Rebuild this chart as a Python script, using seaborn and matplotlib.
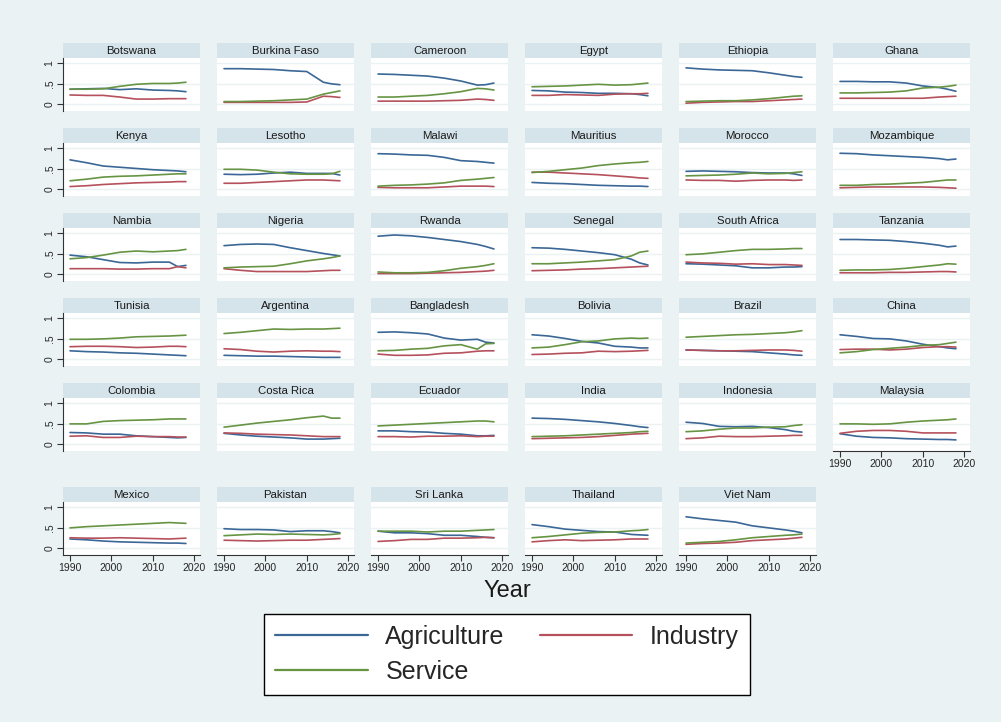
import matplotlib
matplotlib.use("Agg")
import matplotlib.pyplot as plt
from matplotlib.lines import Line2D
import seaborn as sns
import pandas as pd

# ---------------- data ----------------
YEARS = [1990, 1994, 1998, 2002, 2006, 2010, 2014, 2016, 2018]

COUNTRIES = ["Botswana", "Burkina Faso", "Cameroon", "Egypt", "Ethiopia", "Ghana",
             "Kenya", "Lesotho", "Malawi", "Mauritius", "Morocco", "Mozambique",
             "Nambia", "Nigeria", "Rwanda", "Senegal", "South Africa", "Tanzania",
             "Tunisia", "Argentina", "Bangladesh", "Bolivia", "Brazil", "China",
             "Colombia", "Costa Rica", "Ecuador", "India", "Indonesia", "Malaysia",
             "Mexico", "Pakistan", "Sri Lanka", "Thailand", "Viet Nam"]

SECTORS = ["Agriculture", "Industry", "Service"]

AGRICULTURE = {
    "Botswana":     [0.37, 0.38, 0.39, 0.36, 0.38, 0.35, 0.34, 0.33, 0.31],
    "Burkina Faso": [0.87, 0.87, 0.86, 0.85, 0.82, 0.80, 0.54, 0.50, 0.48],
    "Cameroon":     [0.74, 0.73, 0.71, 0.69, 0.64, 0.57, 0.47, 0.48, 0.52],
    "Egypt":        [0.34, 0.33, 0.30, 0.29, 0.27, 0.27, 0.26, 0.24, 0.21],
    "Ethiopia":     [0.89, 0.86, 0.84, 0.83, 0.82, 0.77, 0.71, 0.68, 0.66],
    "Ghana":        [0.56, 0.56, 0.55, 0.55, 0.52, 0.45, 0.41, 0.37, 0.32],
    "Kenya":        [0.72, 0.65, 0.57, 0.54, 0.51, 0.48, 0.46, 0.45, 0.43],
    "Lesotho":      [0.37, 0.36, 0.37, 0.40, 0.42, 0.39, 0.39, 0.39, 0.35],
    "Malawi":       [0.87, 0.86, 0.84, 0.83, 0.78, 0.70, 0.68, 0.66, 0.64],
    "Mauritius":    [0.17, 0.15, 0.14, 0.12, 0.10, 0.09, 0.08, 0.08, 0.07],
    "Morocco":      [0.44, 0.45, 0.44, 0.43, 0.41, 0.40, 0.40, 0.38, 0.34],
    "Mozambique":   [0.88, 0.87, 0.84, 0.82, 0.80, 0.78, 0.75, 0.72, 0.74],
    "Nambia":       [0.47, 0.43, 0.36, 0.29, 0.28, 0.30, 0.30, 0.19, 0.22],
    "Nigeria":      [0.70, 0.73, 0.74, 0.73, 0.65, 0.58, 0.51, 0.48, 0.45],
    "Rwanda":       [0.93, 0.96, 0.94, 0.90, 0.85, 0.80, 0.73, 0.68, 0.62],
    "Senegal":      [0.65, 0.64, 0.61, 0.57, 0.53, 0.48, 0.37, 0.28, 0.23],
    "South Africa": [0.26, 0.25, 0.23, 0.21, 0.16, 0.16, 0.18, 0.18, 0.19],
    "Tanzania":     [0.85, 0.85, 0.84, 0.83, 0.80, 0.76, 0.71, 0.67, 0.69],
    "Tunisia":      [0.21, 0.19, 0.18, 0.16, 0.15, 0.13, 0.11, 0.10, 0.09],
    "Argentina":    [0.10, 0.09, 0.08, 0.08, 0.07, 0.06, 0.05, 0.05, 0.05],
    "Bangladesh":   [0.66, 0.67, 0.65, 0.62, 0.52, 0.47, 0.49, 0.42, 0.40],
    "Bolivia":      [0.60, 0.57, 0.51, 0.44, 0.40, 0.32, 0.30, 0.28, 0.28],
    "Brazil":       [0.23, 0.22, 0.21, 0.20, 0.19, 0.16, 0.13, 0.11, 0.10],
    "China":        [0.60, 0.56, 0.51, 0.50, 0.45, 0.37, 0.31, 0.28, 0.26],
    "Colombia":     [0.29, 0.28, 0.25, 0.25, 0.21, 0.19, 0.17, 0.16, 0.17],
    "Costa Rica":   [0.27, 0.23, 0.20, 0.18, 0.16, 0.13, 0.13, 0.14, 0.15],
    "Ecuador":      [0.33, 0.33, 0.31, 0.30, 0.27, 0.25, 0.21, 0.21, 0.22],
    "India":        [0.64, 0.63, 0.61, 0.58, 0.55, 0.51, 0.46, 0.43, 0.41],
    "Indonesia":    [0.54, 0.51, 0.44, 0.43, 0.44, 0.41, 0.36, 0.32, 0.30],
    "Malaysia":     [0.26, 0.20, 0.17, 0.16, 0.14, 0.13, 0.12, 0.12, 0.11],
    "Mexico":       [0.23, 0.21, 0.18, 0.16, 0.15, 0.14, 0.13, 0.13, 0.12],
    "Pakistan":     [0.48, 0.46, 0.46, 0.45, 0.41, 0.43, 0.43, 0.41, 0.38],
    "Sri Lanka":    [0.42, 0.38, 0.38, 0.36, 0.32, 0.32, 0.29, 0.27, 0.26],
    "Thailand":     [0.58, 0.53, 0.47, 0.44, 0.41, 0.40, 0.34, 0.33, 0.32],
    "Viet Nam":     [0.77, 0.72, 0.68, 0.64, 0.55, 0.50, 0.45, 0.42, 0.38],
}

INDUSTRY = {
    "Botswana":     [0.23, 0.22, 0.22, 0.18, 0.13, 0.13, 0.14, 0.14, 0.14],
    "Burkina Faso": [0.05, 0.05, 0.05, 0.05, 0.05, 0.06, 0.20, 0.19, 0.17],
    "Cameroon":     [0.08, 0.08, 0.08, 0.08, 0.09, 0.10, 0.13, 0.12, 0.10],
    "Egypt":        [0.22, 0.22, 0.24, 0.23, 0.22, 0.25, 0.26, 0.26, 0.27],
    "Ethiopia":     [0.03, 0.05, 0.06, 0.07, 0.07, 0.09, 0.11, 0.12, 0.13],
    "Ghana":        [0.15, 0.15, 0.15, 0.15, 0.15, 0.15, 0.18, 0.19, 0.20],
    "Kenya":        [0.07, 0.09, 0.12, 0.14, 0.16, 0.17, 0.18, 0.19, 0.19],
    "Lesotho":      [0.15, 0.15, 0.17, 0.19, 0.21, 0.23, 0.23, 0.22, 0.21],
    "Malawi":       [0.05, 0.04, 0.04, 0.04, 0.06, 0.08, 0.08, 0.08, 0.07],
    "Mauritius":    [0.42, 0.42, 0.40, 0.38, 0.36, 0.33, 0.30, 0.28, 0.27],
    "Morocco":      [0.23, 0.22, 0.22, 0.20, 0.22, 0.23, 0.23, 0.22, 0.23],
    "Mozambique":   [0.04, 0.05, 0.06, 0.06, 0.06, 0.06, 0.05, 0.04, 0.03],
    "Nambia":       [0.14, 0.14, 0.14, 0.13, 0.13, 0.14, 0.14, 0.19, 0.16],
    "Nigeria":      [0.14, 0.10, 0.07, 0.07, 0.07, 0.07, 0.09, 0.10, 0.10],
    "Rwanda":       [0.02, 0.02, 0.02, 0.03, 0.04, 0.05, 0.07, 0.08, 0.10],
    "Senegal":      [0.09, 0.10, 0.11, 0.13, 0.14, 0.16, 0.18, 0.19, 0.20],
    "South Africa": [0.30, 0.28, 0.27, 0.25, 0.26, 0.24, 0.24, 0.23, 0.22],
    "Tanzania":     [0.04, 0.04, 0.04, 0.05, 0.05, 0.06, 0.07, 0.07, 0.06],
    "Tunisia":      [0.31, 0.32, 0.32, 0.31, 0.29, 0.30, 0.32, 0.32, 0.31],
    "Argentina":    [0.26, 0.24, 0.20, 0.18, 0.20, 0.21, 0.20, 0.20, 0.19],
    "Bangladesh":   [0.13, 0.10, 0.10, 0.11, 0.15, 0.16, 0.20, 0.21, 0.21],
    "Bolivia":      [0.12, 0.13, 0.15, 0.16, 0.20, 0.19, 0.20, 0.21, 0.22],
    "Brazil":       [0.23, 0.22, 0.21, 0.21, 0.22, 0.23, 0.23, 0.22, 0.20],
    "China":        [0.24, 0.25, 0.25, 0.23, 0.25, 0.29, 0.31, 0.31, 0.30],
    "Colombia":     [0.20, 0.21, 0.17, 0.17, 0.20, 0.19, 0.19, 0.18, 0.18],
    "Costa Rica":   [0.28, 0.27, 0.25, 0.24, 0.23, 0.21, 0.19, 0.19, 0.19],
    "Ecuador":      [0.19, 0.19, 0.18, 0.20, 0.20, 0.21, 0.19, 0.20, 0.20],
    "India":        [0.14, 0.15, 0.16, 0.17, 0.19, 0.22, 0.25, 0.26, 0.27],
    "Indonesia":    [0.14, 0.16, 0.20, 0.19, 0.19, 0.20, 0.21, 0.22, 0.22],
    "Malaysia":     [0.27, 0.32, 0.34, 0.34, 0.32, 0.28, 0.28, 0.28, 0.28],
    "Mexico":       [0.26, 0.25, 0.25, 0.26, 0.25, 0.24, 0.23, 0.24, 0.25],
    "Pakistan":     [0.20, 0.19, 0.18, 0.19, 0.20, 0.20, 0.22, 0.23, 0.24],
    "Sri Lanka":    [0.17, 0.19, 0.22, 0.22, 0.25, 0.25, 0.26, 0.27, 0.26],
    "Thailand":     [0.16, 0.19, 0.21, 0.19, 0.20, 0.21, 0.23, 0.23, 0.23],
    "Viet Nam":     [0.10, 0.12, 0.13, 0.15, 0.19, 0.21, 0.23, 0.25, 0.27],
}

SERVICE = {
    "Botswana":     [0.37, 0.37, 0.38, 0.44, 0.49, 0.51, 0.51, 0.52, 0.54],
    "Burkina Faso": [0.07, 0.07, 0.08, 0.09, 0.11, 0.13, 0.25, 0.29, 0.33],
    "Cameroon":     [0.18, 0.18, 0.20, 0.22, 0.26, 0.31, 0.39, 0.38, 0.35],
    "Egypt":        [0.43, 0.44, 0.45, 0.47, 0.49, 0.47, 0.48, 0.50, 0.52],
    "Ethiopia":     [0.07, 0.08, 0.09, 0.09, 0.11, 0.14, 0.18, 0.20, 0.21],
    "Ghana":        [0.28, 0.28, 0.29, 0.30, 0.33, 0.40, 0.42, 0.44, 0.47],
    "Kenya":        [0.21, 0.25, 0.30, 0.32, 0.33, 0.35, 0.37, 0.38, 0.38],
    "Lesotho":      [0.49, 0.49, 0.47, 0.42, 0.38, 0.37, 0.37, 0.38, 0.44],
    "Malawi":       [0.08, 0.10, 0.11, 0.13, 0.16, 0.22, 0.25, 0.27, 0.29],
    "Mauritius":    [0.41, 0.44, 0.48, 0.52, 0.58, 0.62, 0.65, 0.66, 0.68],
    "Morocco":      [0.33, 0.34, 0.35, 0.37, 0.40, 0.38, 0.39, 0.41, 0.43],
    "Mozambique":   [0.10, 0.10, 0.12, 0.13, 0.15, 0.17, 0.21, 0.23, 0.23],
    "Nambia":       [0.38, 0.41, 0.47, 0.54, 0.57, 0.55, 0.57, 0.58, 0.61],
    "Nigeria":      [0.16, 0.18, 0.19, 0.20, 0.26, 0.33, 0.38, 0.41, 0.45],
    "Rwanda":       [0.06, 0.04, 0.04, 0.05, 0.09, 0.15, 0.19, 0.22, 0.26],
    "Senegal":      [0.26, 0.26, 0.28, 0.30, 0.33, 0.36, 0.45, 0.54, 0.57],
    "South Africa": [0.48, 0.50, 0.54, 0.58, 0.61, 0.61, 0.62, 0.63, 0.63],
    "Tanzania":     [0.10, 0.11, 0.11, 0.12, 0.15, 0.19, 0.23, 0.26, 0.25],
    "Tunisia":      [0.49, 0.49, 0.50, 0.52, 0.55, 0.56, 0.57, 0.58, 0.59],
    "Argentina":    [0.63, 0.66, 0.70, 0.74, 0.73, 0.74, 0.74, 0.75, 0.76],
    "Bangladesh":   [0.21, 0.22, 0.25, 0.27, 0.33, 0.36, 0.25, 0.38, 0.39],
    "Bolivia":      [0.28, 0.30, 0.36, 0.43, 0.45, 0.50, 0.52, 0.51, 0.52],
    "Brazil":       [0.54, 0.56, 0.58, 0.60, 0.61, 0.63, 0.65, 0.67, 0.70],
    "China":        [0.16, 0.19, 0.24, 0.27, 0.30, 0.34, 0.36, 0.39, 0.42],
    "Colombia":     [0.50, 0.50, 0.56, 0.58, 0.59, 0.60, 0.62, 0.62, 0.62],
    "Costa Rica":   [0.42, 0.47, 0.52, 0.56, 0.60, 0.65, 0.69, 0.64, 0.64],
    "Ecuador":      [0.45, 0.47, 0.49, 0.51, 0.53, 0.55, 0.57, 0.57, 0.55],
    "India":        [0.19, 0.20, 0.21, 0.23, 0.25, 0.27, 0.29, 0.31, 0.32],
    "Indonesia":    [0.31, 0.33, 0.37, 0.40, 0.40, 0.42, 0.43, 0.46, 0.48],
    "Malaysia":     [0.50, 0.50, 0.49, 0.50, 0.54, 0.57, 0.59, 0.60, 0.62],
    "Mexico":       [0.50, 0.53, 0.55, 0.57, 0.59, 0.61, 0.63, 0.62, 0.61],
    "Pakistan":     [0.31, 0.33, 0.35, 0.34, 0.35, 0.34, 0.33, 0.34, 0.36],
    "Sri Lanka":    [0.42, 0.42, 0.42, 0.40, 0.42, 0.42, 0.44, 0.45, 0.46],
    "Thailand":     [0.26, 0.29, 0.33, 0.37, 0.39, 0.40, 0.43, 0.44, 0.46],
    "Viet Nam":     [0.13, 0.15, 0.17, 0.21, 0.26, 0.29, 0.32, 0.33, 0.35],
}

X_TICKS = [1990, 2000, 2010, 2020]
Y_TICKS = [0, 0.5, 1]
Y_TICK_LABELS = ["0", ".5", "1"]

# ---------------- styling ----------------
BG = "#EAF2F3"
STRIP = "#D5E3EA"
COLORS = {"Agriculture": "#3b6796", "Industry": "#b5515c", "Service": "#679443"}

sns.set_theme(style="white")
plt.rcParams["font.family"] = ["Liberation Sans", "DejaVu Sans"]

rows = []
for sector, table in zip(SECTORS, [AGRICULTURE, INDUSTRY, SERVICE]):
    for c in COUNTRIES:
        for y, v in zip(YEARS, table[c]):
            rows.append({"country": c, "sector": sector, "year": y, "share": v})
df = pd.DataFrame(rows)

W, H = 1001, 722
fig = plt.figure(figsize=(W / 100, H / 100), dpi=100, facecolor=BG)

COL_LEFT = 63
COL_PITCH = 154
PANEL_W = 137
STRIP_H = 15
PLOT_H = 53
ROW_TOPS = [43, 128, 213, 298, 383, 487]
NCOL = 6
n = len(COUNTRIES)

for i, c in enumerate(COUNTRIES):
    r, k = divmod(i, NCOL)
    left = COL_LEFT + COL_PITCH * k
    top = ROW_TOPS[r]
    # strip
    sax = fig.add_axes([left / W, 1 - (top + STRIP_H) / H, PANEL_W / W, STRIP_H / H])
    sax.set_facecolor(STRIP)
    sax.set_xticks([]); sax.set_yticks([])
    for s in sax.spines.values():
        s.set_visible(False)
    sax.text(0.5, 0.45, c, ha="center", va="center", fontsize=8.2,
             color="#1a1a1a", transform=sax.transAxes)
    # plot
    ax = fig.add_axes([left / W, 1 - (top + STRIP_H + PLOT_H) / H, PANEL_W / W, PLOT_H / H])
    ax.set_facecolor("white")
    for yv in Y_TICKS:
        ax.axhline(yv, color=BG, lw=1.0, zorder=0)
    sub = df[df.country == c]
    sns.lineplot(data=sub, x="year", y="share", hue="sector", palette=COLORS,
                 hue_order=SECTORS, ax=ax, legend=False, lw=1.2)
    ax.set_xlim(1988.3, 2021.4)
    ax.set_ylim(-0.16, 1.13)
    ax.set_xlabel(""); ax.set_ylabel("")
    for s in ["top", "right"]:
        ax.spines[s].set_visible(False)
    is_bottom = (i + NCOL >= n)
    if k == 0:
        ax.spines["left"].set_visible(True)
        ax.spines["left"].set_color("#333333")
        ax.spines["left"].set_linewidth(0.8)
        ax.set_yticks(Y_TICKS)
        ax.set_yticklabels(Y_TICK_LABELS, rotation=90, va="center", fontsize=7.5)
        ax.tick_params(axis="y", length=4, width=0.8, color="#333333", pad=2, left=True)
    else:
        ax.spines["left"].set_visible(False)
        ax.set_yticks([])
    if is_bottom:
        ax.spines["bottom"].set_visible(True)
        ax.spines["bottom"].set_color("#333333")
        ax.spines["bottom"].set_linewidth(0.8)
        ax.set_xticks(X_TICKS)
        ax.set_xticklabels([str(t) for t in X_TICKS], fontsize=7.5)
        ax.tick_params(axis="x", length=4, width=0.8, color="#333333", pad=2, bottom=True)
    else:
        ax.spines["bottom"].set_visible(False)
        ax.set_xticks([])

fig.text(507 / W, 1 - 591 / H, "Year", ha="center", va="center", fontsize=17, color="#1a1a1a")

handles = [Line2D([], [], color=COLORS[s], lw=1.6) for s in ["Agriculture", "Service", "Industry"]]
labels = ["Agriculture", "Service", "Industry"]
leg = fig.legend(handles, labels, ncol=2, loc="center",
                 bbox_to_anchor=(507 / W, 1 - 654.5 / H), fontsize=18,
                 frameon=True, fancybox=False, edgecolor="black", framealpha=1,
                 handlelength=3.7, handletextpad=0.7, columnspacing=1.4,
                 labelspacing=0.45, borderpad=0.45)
leg.get_frame().set_linewidth(1.0)

fig.savefig("out.png", dpi=100, facecolor=BG)
